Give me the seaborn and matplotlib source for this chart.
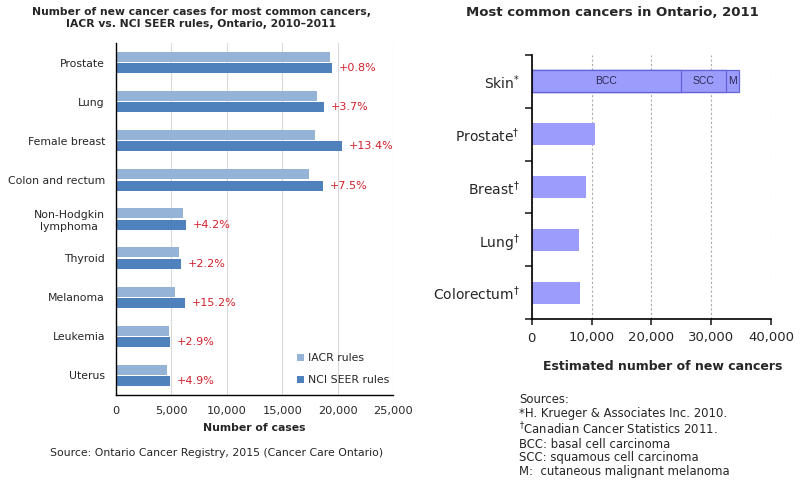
import numpy as np
import seaborn as sns
import pandas as pd
import matplotlib
matplotlib.use("Agg")
from matplotlib import pyplot as plt

# left chart data
sites = ["Prostate", "Lung", "Female breast", "Colon and rectum", "Non-Hodgkin\nlymphoma",
         "Thyroid", "Melanoma", "Leukemia", "Uterus"]
iacr = [19300, 18100, 17950, 17400, 6080, 5720, 5370, 4740, 4620]
seer = [19450, 18770, 20360, 18700, 6340, 5850, 6190, 4880, 4850]
pct = ["+0.8%", "+3.7%", "+13.4%", "+7.5%", "+4.2%", "+2.2%", "+15.2%", "+2.9%", "+4.9%"]

# right chart data
cancers = ["Skin$^{*}$", "Prostate$^{\\dagger}$", "Breast$^{\\dagger}$", "Lung$^{\\dagger}$", "Colorectum$^{\\dagger}$"]
estimates = [None, 10500, 9000, 7900, 8100]
skin_parts = ["BCC", "SCC", "M"]
skin_values = [25000, 7500, 2200]

sns.set_style("white")
plt.rcParams['font.family'] = ['DejaVu Sans']

fig = plt.figure(figsize=(8.03, 4.87), dpi=100)
W, H = 803, 487

# ---------- left chart ----------
ax1 = fig.add_axes([116 / W, 1 - 395 / H, (393 - 116) / W, (395 - 43) / H])
df1 = pd.DataFrame({'site': sites * 2,
                    'cases': iacr + seer,
                    'rule': ['IACR rules'] * len(sites) + ['NCI SEER rules'] * len(sites)})
sns.barplot(data=df1, y='site', x='cases', hue='rule', order=sites,
            palette=['#95B3D7', '#4F81BD'], width=0.58, gap=0.12, linewidth=0,
            orient='h', saturation=1, ax=ax1)
ax1.bar_label(ax1.containers[1], labels=pct, padding=5, color='#D0202A', fontsize=8)
ax1.set_xlim(0, 25000)
ax1.set_xticks(np.arange(0, 25001, 5000))
ax1.set_xticklabels([f"{v:,}" for v in range(0, 25001, 5000)], fontsize=8.2)
ax1.tick_params(axis='y', length=0, pad=8, labelsize=7.8)
ax1.tick_params(axis='x', length=0, pad=8)
ax1.set_ylabel('')
ax1.set_xlabel('Number of cases', fontsize=7.8, fontweight='bold', labelpad=5)
ax1.xaxis.grid(True, color='#D9D9D9', linewidth=0.8)
ax1.set_axisbelow(True)
for s in ['top', 'right']:
    ax1.spines[s].set_visible(False)
for s in ['left', 'bottom']:
    ax1.spines[s].set_color('black')
    ax1.spines[s].set_linewidth(1.0)
leg = ax1.legend(loc='lower right', frameon=False, fontsize=7.8, handlelength=0.7,
                 handleheight=0.7, handletextpad=0.3, labelspacing=1.1,
                 bbox_to_anchor=(1.02, 0.0))
for t in ax1.get_yticklabels():
    t.set_horizontalalignment('right')
    t.set_multialignment('center')

fig.text(201 / W, 1 - 18 / H, "Number of new cancer cases for most common cancers,\nIACR vs. NCI SEER rules, Ontario, 2010\u20132011",
         ha='center', va='center', fontsize=7.75, fontweight='bold', linespacing=1.25)
fig.text(50 / W, 1 - 453 / H, "Source: Ontario Cancer Registry, 2015 (Cancer Care Ontario)",
         ha='left', va='center', fontsize=7.8)

# ---------- right chart ----------
ax2 = fig.add_axes([531.7 / W, 1 - 319 / H, (771 - 531.7) / W, (319 - 55) / H])
skin_total = sum(skin_values)
df2 = pd.DataFrame({'cancer': cancers, 'n': [skin_total] + estimates[1:]})
bar_col = '#9C9CFC'
edge_col = '#6464D8'
sns.barplot(data=df2, y='cancer', x='n', order=cancers, color=bar_col, saturation=1,
            width=0.42, orient='h', linewidth=0, ax=ax2)
# stacked skin segments, drawn as layers from the right
cum = np.cumsum(skin_values)
for k in range(len(skin_values) - 1, -1, -1):
    dfk = pd.DataFrame({'cancer': [cancers[0]], 'n': [cum[k]]})
    sns.barplot(data=dfk, y='cancer', x='n', order=cancers, color=bar_col, saturation=1,
                width=0.42, orient='h', edgecolor=edge_col, linewidth=0.9, ax=ax2)
starts = np.concatenate([[0], cum[:-1]])
for name, a, b in zip(skin_parts, starts, cum):
    ax2.text((a + b) / 2, 0, name, ha='center', va='center', fontsize=7.5,
             family='Liberation Sans', color='#2A2A50')

ax2.set_xlim(0, 40000)
ax2.set_ylim(4.5, -0.5)
ax2.set_xticks(np.arange(0, 40001, 10000))
ax2.set_xticklabels([f"{v:,}" for v in range(0, 40001, 10000)], fontsize=9.5)
ax2.set_yticks(range(len(cancers)))
ax2.set_yticklabels(cancers, fontsize=10)
ax2.set_yticks(np.arange(-0.5, 5, 1), minor=True)
ax2.tick_params(axis='y', which='major', length=0, pad=8.5)
ax2.tick_params(axis='y', which='minor', length=5, width=1.2, direction='out', left=True)
ax2.tick_params(axis='x', length=4, width=1.2, direction='out', bottom=True, pad=5)
ax2.set_ylabel('')
ax2.set_xlabel('Estimated number of new cancers', fontsize=9.0, fontweight='bold')
ax2.xaxis.set_label_coords((663 - 531.7) / (771 - 531.7), -0.155)
ax2.xaxis.grid(True, color='#AAAAAA', linestyle=(0, (2, 2)), linewidth=0.8)
ax2.set_axisbelow(True)
for s in ['top', 'right']:
    ax2.spines[s].set_visible(False)
for s in ['left', 'bottom']:
    ax2.spines[s].set_color('black')
    ax2.spines[s].set_linewidth(1.2)

fig.text(612 / W, 1 - 13 / H, "Most common cancers in Ontario, 2011",
         ha='center', va='center', fontsize=9.5, fontweight='bold')
sources = ("Sources:\n*H. Krueger & Associates Inc. 2010.\n$^{\\dagger}$Canadian Cancer Statistics 2011.\n"
           "BCC: basal cell carcinoma\nSCC: squamous cell carcinoma\nM:  cutaneous malignant melanoma")
fig.text(519 / W, 1 - 393 / H, sources, ha='left', va='top', fontsize=8.4, linespacing=1.06)

plt.savefig('out.png', dpi=100)
